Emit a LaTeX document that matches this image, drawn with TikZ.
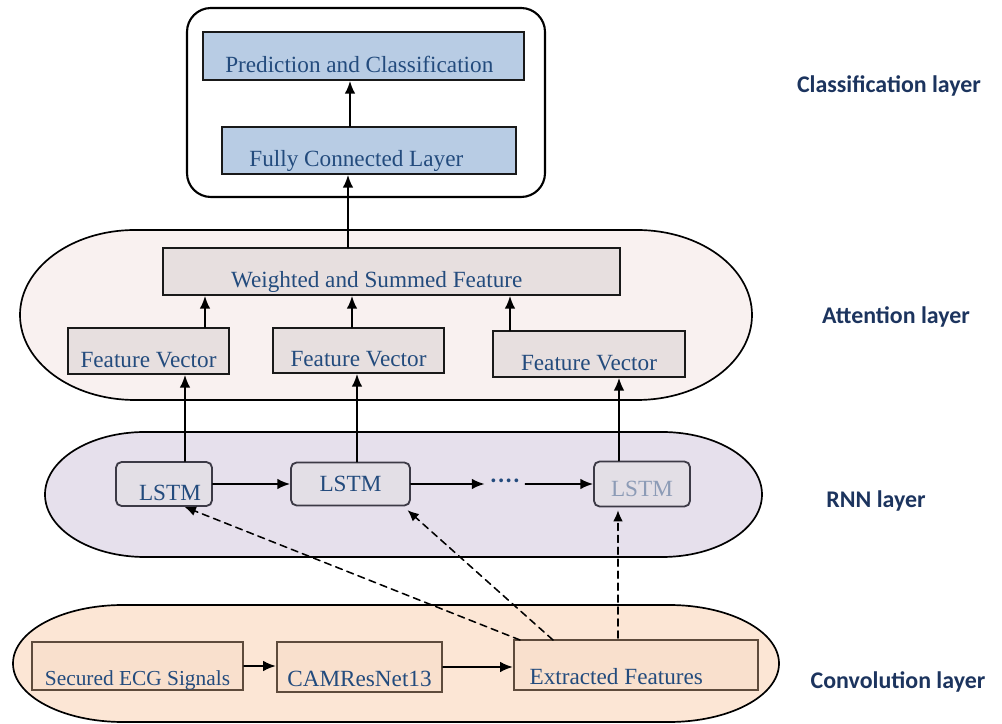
\documentclass[tikz,border=0pt]{standalone}
\usepackage{fontspec}
\setmainfont{Liberation Serif}
\newfontfamily\lblfont{Carlito}
\usetikzlibrary{arrows.meta}

\definecolor{boxtxt}{RGB}{35,75,125}
\definecolor{lbltxt}{RGB}{28,52,94}
\definecolor{lstmfade}{RGB}{140,155,182}
\definecolor{predblue}{RGB}{184,204,228}
\definecolor{attbg}{RGB}{249,241,240}
\definecolor{attgrey}{RGB}{231,223,223}
\definecolor{rnnbg}{RGB}{230,224,236}
\definecolor{lstmgrey}{RGB}{227,223,230}
\definecolor{lstmline}{RGB}{60,58,70}
\definecolor{convbg}{RGB}{252,230,213}
\definecolor{convpeach}{RGB}{249,224,205}
\definecolor{convline}{RGB}{94,75,60}

\tikzset{
  box/.style={draw=black!90, line width=1.3pt, inner sep=0pt, text=boxtxt,
    font=\fontsize{16.5}{18}\selectfont, text height=26.4pt, text depth=3.3pt},
  clsbox/.style={box, fill=predblue},
  attbox/.style={box, fill=attgrey},
  lstmbox/.style={box, draw=lstmline, fill=lstmgrey, rounded corners=4pt},
  convbox/.style={box, draw=convline, line width=1.6pt, fill=convpeach, text height=31pt},
  layertxt/.style={text=lbltxt, font=\lblfont\bfseries\fontsize{17}{20}\selectfont},
  arr/.style={-{Latex[length=9pt,width=7.5pt]}, line width=1.3pt},
  dsh/.style={-{Latex[length=8pt,width=7pt]}, line width=1.1pt, dash pattern=on 5pt off 3.5pt},
}

\begin{document}
\begin{tikzpicture}[x=0.025cm, y=0.025cm, line cap=round]
\useasboundingbox (0,0) rectangle (1002,724);

% layer outlines
\draw[line width=1.5pt, fill=white, rounded corners=17pt] (187,527) rectangle (545,716); % classification
\draw[line width=1.2pt, fill=attbg] (135,494) -- (637,494) arc[start angle=90, end angle=-90, x radius=115, y radius=85]
  -- (135,324) arc[start angle=270, end angle=90, x radius=115, y radius=85] -- cycle; % attention
\draw[line width=1.2pt, fill=rnnbg] (145,292) -- (662,292) arc[start angle=90, end angle=-90, x radius=100, y radius=62.5]
  -- (145,167) arc[start angle=270, end angle=90, x radius=100, y radius=62.5] -- cycle; % rnn
\draw[line width=1.2pt, fill=convbg] (123,119) -- (669,119) arc[start angle=90, end angle=-90, x radius=110, y radius=58.5]
  -- (123,2) arc[start angle=270, end angle=90, x radius=110, y radius=58.5] -- cycle; % convolution

% classification
\node[clsbox, minimum width=8.025cm, minimum height=1.2cm] (pred) at (363.5,668) {Prediction and Classification\hspace*{6pt}};
\node[clsbox, minimum width=7.35cm, minimum height=1.175cm] (fc) at (369,573.5) {Fully Connected Layer\hspace*{18pt}};

% attention
\node[attbox, minimum width=11.425cm, minimum height=1.175cm] (wsum) at (391.5,452.5) {Weighted and Summed Feature\hspace*{21pt}};
\node[attbox, minimum width=4.025cm, minimum height=1.15cm] (fv1) at (148.5,373) {Feature Vector};
\node[attbox, minimum width=4.275cm, minimum height=1.125cm] (fv2) at (358.5,373.5) {Feature Vector};
\node[attbox, minimum width=4.8cm, minimum height=1.15cm] (fv3) at (589,370) {Feature Vector};

% rnn
\node[lstmbox, minimum width=2.4cm, minimum height=1.1cm] (lstm1) at (164,240) {\hspace*{8.5pt}LSTM};
\node[lstmbox, minimum width=2.975cm, minimum height=1.075cm, text height=14pt] (lstm2) at (350.5,240) {LSTM};
\node[lstmbox, minimum width=2.4cm, minimum height=1.125cm, text height=21pt, text=lstmfade] (lstm3) at (642,240) {LSTM};
\node[text=boxtxt, font=\fontsize{16.5}{18}\selectfont\bfseries] (dots) at (505,240) {····};

% convolution
\node[convbox, minimum width=5.275cm, minimum height=1.2cm, font=\fontsize{15.2}{17}\selectfont] (ecg) at (137.5,58) {Secured ECG Signals};
\node[convbox, minimum width=4.125cm, minimum height=1.25cm] (cam) at (359.5,57) {CAMResNet13};
\node[convbox, minimum width=6.1cm, minimum height=1.25cm] (extr) at (636,59) {Extracted Features\hspace*{28pt}};

% layer names
\node[layertxt] (lcls) at (889,638) {Classification layer};
\node[layertxt] (latt) at (896,407) {Attention layer};
\node[layertxt] (lrnn) at (876,223) {RNN layer};
\node[layertxt] (lconv) at (898,42) {Convolution layer};

% arrows
\draw[arr] (fc.north -| 350,0) -- (pred.south -| 350,0);
\draw[arr] (wsum.north -| 348,0) -- (fc.south -| 348,0);
\draw[arr] (fv1.north -| 205,0) -- (wsum.south -| 205,0);
\draw[arr] (fv2.north -| 352,0) -- (wsum.south -| 352,0);
\draw[arr] (fv3.north -| 510,0) -- (wsum.south -| 510,0);
\draw[arr] (lstm1.north -| 185,0) -- (fv1.south -| 185,0);
\draw[arr] (lstm2.north -| 357,0) -- (fv2.south -| 357,0);
\draw[arr, line width=1pt] (lstm3.north -| 619,0) -- (fv3.south -| 619,0);
\draw[arr] (lstm1) -- (lstm2);
\draw[arr] (lstm2) -- (dots);
\draw[arr] (dots) -- (lstm3);
\draw[arr] (ecg.east) -- (ecg.east -| cam.west);
\draw[arr] (cam.east) -- (cam.east -| extr.west);

% dashed feature links
\coordinate (d1) at (520,84);
\coordinate (d2) at (553,84);
\coordinate (d3) at (618,86);
\draw[dsh] (d1) -- (lstm1.-48);
\draw[dsh, shorten >=4pt] (d2) -- (lstm2.-23);
\draw[dsh, shorten >=2pt] (d3) -- (d3 |- lstm3.south);
\end{tikzpicture}
\end{document}
